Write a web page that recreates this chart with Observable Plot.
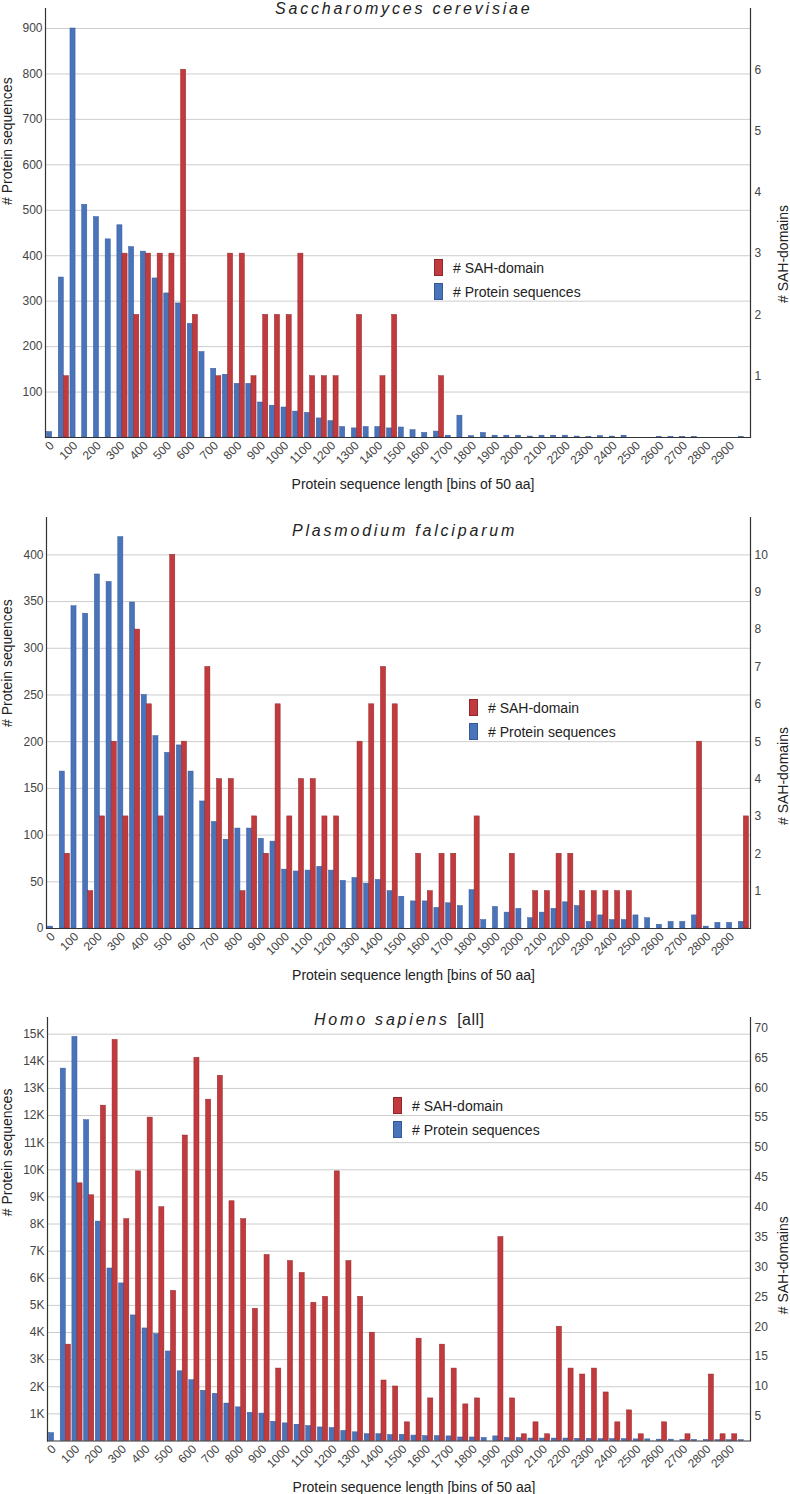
<!DOCTYPE html>
<html><head><meta charset="utf-8">
<script src="https://cdn.jsdelivr.net/npm/d3@7"></script>
<script src="https://cdn.jsdelivr.net/npm/@observablehq/plot@0.6"></script>
<style>
body{margin:0;background:#fff;font-family:"Liberation Sans",Arial,sans-serif;}
#wrap{position:relative;width:790px;height:1494px;overflow:hidden;}
.panel{position:absolute;left:0;}
.title{position:absolute;font-size:16px;line-height:16px;font-style:italic;letter-spacing:2.8px;color:#222;white-space:nowrap;}
.title .n{font-style:normal;letter-spacing:0.5px;}
.legend{position:absolute;font-size:14px;color:#222;white-space:nowrap;}
.row{display:flex;align-items:center;height:17px;margin-bottom:7px;}
.sw{width:9px;height:17px;margin-right:10px;box-sizing:border-box;}
</style></head><body><div id="wrap"></div>
<script>
// ---- categories (bins of 50 aa) ----
const bins = [0,50,100,150,200,250,300,350,400,450,500,550,600,650,700,750,800,850,900,950,
  1000,1050,1100,1150,1200,1250,1300,1350,1400,1450,1500,1550,1600,1650,1700,1750,1800,1850,1900,1950,
  2000,2050,2100,2150,2200,2250,2300,2350,2400,2450,2500,2550,2600,2650,2700,2750,2800,2850,2900,2950];
const xTicks = [0,100,200,300,400,500,600,700,800,900,1000,1100,1200,1300,1400,1500,1600,1700,1800,1900,
  2000,2100,2200,2300,2400,2500,2600,2700,2800,2900];

// ---- Saccharomyces cerevisiae ----
const yeastProteins = [12,352,900,512,485,436,467,419,409,350, 317,295,250,188,151,138,118,118,77,70,
  66,57,54,42,36,23,20,23,23,20, 22,16,10,13,4,48,3,10,4,4, 4,2,4,4,4,2,1,3,2,4, 0,0,1,1,1,1,0,0,0,1];
const yeastSAH = [0,1,0,0,0,0,3,2,3,3, 3,6,2,0,1,3,3,1,2,2, 2,3,1,1,1,0,2,0,1,2,
  0,0,0,1,0,0,0,0,0,0, 0,0,0,0,0,0,0,0,0,0, 0,0,0,0,0,0,0,0,0,0];
const yeastLeftTicks = [100,200,300,400,500,600,700,800,900];
const yeastRightTicks = [1,2,3,4,5,6];

// ---- Plasmodium falciparum ----
const plasProteins = [2,168,345,337,379,371,419,349,250,206, 188,196,168,136,114,95,107,107,96,93,
  63,61,62,66,62,51,54,48,52,40, 34,29,29,22,27,24,41,9,23,17, 21,11,17,21,28,24,7,14,9,9, 14,11,4,7,7,14,2,6,6,7];
const plasSAH = [0,2,0,1,3,5,3,8,6,3, 10,5,0,7,4,4,1,3,2,6, 3,4,4,3,3,0,5,6,7,6,
  0,2,1,2,2,0,3,0,0,2, 0,1,1,2,2,1,1,1,1,1, 0,0,0,0,0,5,0,0,0,3];
const plasLeftTicks = [0,50,100,150,200,250,300,350,400];
const plasRightTicks = [1,2,3,4,5,6,7,8,9,10];

// ---- Homo sapiens [all] ----
const homoProteins = [290,13730,14900,11830,8090,6360,5810,4630,4150,3940, 3300,2570,2240,1850,1740,1380,1240,1040,1010,710,
  650,600,550,500,480,370,320,250,250,220, 230,200,180,180,170,130,130,110,170,110,
  110,90,90,90,90,80,80,70,70,70, 60,60,50,50,40,40,40,30,30,30];
const homoSAH = [0,17,44,42,57,68,38,46,55,40, 26,52,65,58,62,41,38,23,32,13,
  31,29,24,25,46,31,25,19,11,10, 4,18,8,17,13,7,8,0,35,8, 2,4,2,20,13,12,13,9,4,6, 2,0,4,0,2,0,12,2,2,0];
const homoLeftTicks = [1000,2000,3000,4000,5000,6000,7000,8000,9000,10000,11000,12000,13000,14000,15000];
const homoRightTicks = [5,10,15,20,25,30,35,40,45,50,55,60,65,70];

const seriesNames = ["# SAH-domain", "# Protein sequences"];
const xTitle = "Protein sequence length [bins of 50 aa]";
const yLeftTitle = "# Protein sequences";
const yRightTitle = "# SAH-domains";

const BLUE = "#4a74ba", BLUE_S = "#34599b", RED = "#c13a3d", RED_S = "#93262a";

const panels = [
  {titleHtml:'Saccharomyces cerevisiae', blue:yeastProteins, red:yeastSAH,
   leftTicks:yeastLeftTicks, rightTicks:yeastRightTicks, fmt:d=>String(d), yMax:944, ratio:944/7, r0:0,
   top:0, height:500, mt:8, mb:63, ml:45, labDy:-18, titleLeft:275, titleTop:0.5, legLeft:434, legTop:259},
  {titleHtml:'Plasmodium falciparum', blue:plasProteins, red:plasSAH,
   leftTicks:plasLeftTicks, rightTicks:plasRightTicks, fmt:d=>String(d), yMax:440, ratio:40, r0:0,
   top:500, height:500, mt:17, mb:72, ml:46, labDy:4, titleLeft:292, titleTop:522.5, legLeft:469, legTop:699},
  {titleHtml:'Homo sapiens <span class="n">[all]</span>', blue:homoProteins, red:homoSAH,
   leftTicks:homoLeftTicks, rightTicks:homoRightTicks, fmt:d=>(d/1000)+"K", yMax:15615, ratio:220.3, r0:0.875,
   top:1000, height:494, mt:17, mb:53.5, ml:47, labDy:-13, titleLeft:314, titleTop:1011.5, legLeft:393, legTop:1097}
];

const wrap = document.getElementById("wrap");
const W = 790, MR = 40, PAD = 0.13;
const FONT = '"Liberation Sans", Arial, sans-serif';

for (const p of panels) {
  const data = bins.map((b, i) => ({bin: b, prot: p.blue[i], sah: p.red[i]}));
  const innerW = W - p.ml - MR;
  const step = innerW / (bins.length - PAD + 2 * PAD);
  const half = step * (1 - PAD) / 2;
  const toLeft = r => (r - p.r0) * p.ratio;
  const chart = Plot.plot({
    width: W, height: p.height,
    marginTop: p.mt, marginBottom: p.mb, marginLeft: p.ml, marginRight: MR,
    style: {fontFamily: FONT, fontSize: "12px", color: "#444", background: "transparent", overflow: "visible"},
    x: {type: "band", domain: bins, padding: PAD},
    y: {domain: [0, p.yMax]},
    marks: [
      Plot.gridY(p.leftTicks.filter(d => d > 0), {stroke: "#cdcdcd", strokeOpacity: 1, strokeWidth: 1}),
      Plot.barY(data.filter(d => d.prot > 0), {x: "bin", y: "prot", fill: BLUE, stroke: BLUE_S, strokeWidth: 0.5, insetRight: half}),
      Plot.barY(data.filter(d => d.sah > 0), {x: "bin", y: d => toLeft(d.sah), fill: RED, stroke: RED_S, strokeWidth: 0.5, insetLeft: half}),
      Plot.ruleY([0], {stroke: "#333", strokeWidth: 1.2}),
      Plot.frame({anchor: "left", stroke: "#333", strokeWidth: 1.2}),
      Plot.frame({anchor: "right", stroke: "#333", strokeWidth: 1.2}),
      Plot.axisY(p.leftTicks, {anchor: "left", tickSize: 0, tickPadding: 3, tickFormat: p.fmt, label: null, fontSize: 12, fill: "#444"}),
      Plot.axisY(p.rightTicks.map(toLeft), {anchor: "right", tickSize: 0, tickPadding: 4, tickFormat: d => String(Math.round(d / p.ratio + p.r0)), label: null, fontSize: 12, fill: "#444"}),
      Plot.axisX(xTicks, {tickRotate: -45, tickSize: 0, tickPadding: 6, tickFormat: d => String(d), label: null, fontSize: 12, fill: "#444"}),
      Plot.text([yLeftTitle], {frameAnchor: "left", rotate: -90, dx: -(p.ml - 7), dy: p.labDy, fontSize: 14, fill: "#222"}),
      Plot.text([yRightTitle], {frameAnchor: "right", rotate: -90, dx: 33, dy: p.labDy, fontSize: 14, fill: "#222"}),
      Plot.text([xTitle], {frameAnchor: "bottom", lineAnchor: "middle", dx: 15, dy: 47, fontSize: 14, fill: "#222"})
    ]
  });
  const div = document.createElement("div");
  div.className = "panel";
  div.style.top = p.top + "px";
  div.appendChild(chart);
  wrap.appendChild(div);

  const t = document.createElement("div");
  t.className = "title";
  t.style.left = p.titleLeft + "px";
  t.style.top = p.titleTop + "px";
  t.innerHTML = p.titleHtml;
  wrap.appendChild(t);

  const lg = document.createElement("div");
  lg.className = "legend";
  lg.style.left = p.legLeft + "px";
  lg.style.top = p.legTop + "px";
  const cols = [[RED, RED_S], [BLUE, BLUE_S]];
  seriesNames.forEach((name, i) => {
    const row = document.createElement("div");
    row.className = "row";
    const sw = document.createElement("div");
    sw.className = "sw";
    sw.style.background = cols[i][0];
    sw.style.border = "0.5px solid " + cols[i][1];
    const tx = document.createElement("span");
    tx.textContent = name;
    row.appendChild(sw); row.appendChild(tx);
    lg.appendChild(row);
  });
  wrap.appendChild(lg);
}
</script></body></html>
